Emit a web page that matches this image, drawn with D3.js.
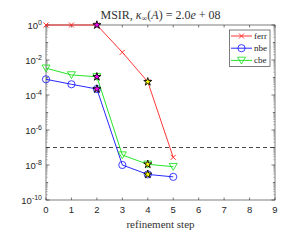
<!DOCTYPE html>
<html><head><meta charset="utf-8">
<script src="https://cdn.jsdelivr.net/npm/d3@7"></script>
<style>body{margin:0;background:#fff}svg{display:block}</style>
</head><body><svg id="c" width="292" height="240"></svg>
<script>
const steps = [0,1,2,3,4,5];
const ferr = [1, 1, 1, 2.75e-2, 5.7e-4, 2.75e-8];
const nbe  = [7.9e-4, 4.1e-4, 2.2e-4, 1.0e-8, 2.9e-9, 2.1e-9];
const cbe  = [3.4e-3, 1.4e-3, 1.1e-3, 3.7e-8, 1.1e-8, 8.0e-9];
const threshold = 1e-7;
const stars = [{step:2, fill:"#ff00ff"}, {step:4, fill:"#ffff00"}];
const xTicks = [0,1,2,3,4,5,6,7,8,9];
const yTickExps = [0,-2,-4,-6,-8,-10];
const seriesNames = ["ferr","nbe","cbe"];

const svg = d3.select("#c");
const L=46, R=275, T=25, B=200;
const x = d3.scaleLinear().domain([0,9]).range([L,R]);
const y = d3.scaleLog().domain([1e-10,1]).range([B,T]);
const axCol = "#262626";

svg.append("rect").attr("x",L).attr("y",T).attr("width",R-L).attr("height",B-T)
  .attr("fill","none").attr("stroke",axCol).attr("stroke-width",0.6);

xTicks.forEach(t=>{
  svg.append("line").attr("x1",x(t)).attr("x2",x(t)).attr("y1",B).attr("y2",B-2.5).attr("stroke",axCol).attr("stroke-width",0.6);
  svg.append("line").attr("x1",x(t)).attr("x2",x(t)).attr("y1",T).attr("y2",T+2.5).attr("stroke",axCol).attr("stroke-width",0.6);
  svg.append("text").attr("x",x(t)).attr("y",B+13).attr("text-anchor","middle")
    .attr("font-family","Liberation Sans, Arial, sans-serif").attr("font-size",9.5).attr("fill",axCol).text(t);
});
for(let e=-10;e<=0;e++){
  const major = yTickExps.includes(e);
  const yy = y(Math.pow(10,e));
  const len = major?3.5:2.2;
  [[L,L+len],[R,R-len]].forEach(([a,b])=>svg.append("line").attr("x1",a).attr("x2",b).attr("y1",yy).attr("y2",yy).attr("stroke",axCol).attr("stroke-width",0.6));
  if(e<0){
    for(let m=2;m<=9;m++){
      const ym = y(m*Math.pow(10,e));
      [[L,L+1.8],[R,R-1.8]].forEach(([a,b])=>svg.append("line").attr("x1",a).attr("x2",b).attr("y1",ym).attr("y2",ym).attr("stroke","#777").attr("stroke-width",0.5));
    }
  }
}
yTickExps.forEach(e=>{
  const t = svg.append("text").attr("x",L-4).attr("y",y(Math.pow(10,e))+3.5).attr("text-anchor","end")
    .attr("font-family","Liberation Sans, Arial, sans-serif").attr("font-size",9.5).attr("fill",axCol);
  t.append("tspan").text("10");
  t.append("tspan").attr("dy",-4).attr("font-size",7).text(e===0?"0":"-"+(-e));
});

svg.append("line").attr("x1",L).attr("x2",R).attr("y1",y(threshold)).attr("y2",y(threshold))
  .attr("stroke","#333").attr("stroke-width",0.9).attr("stroke-dasharray","4,3");

const line = d3.line().x((d,i)=>x(steps[i])).y(d=>y(d));
const colors = {ferr:"#ff2020", nbe:"#1010ff", cbe:"#10e010"};
const data = {ferr, nbe, cbe};

function marker(g, name, cx, cy){
  const c = colors[name];
  if(name==="ferr"){
    g.append("path").attr("d",`M${cx-2.5},${cy-2.5}L${cx+2.5},${cy+2.5}M${cx-2.5},${cy+2.5}L${cx+2.5},${cy-2.5}`).attr("stroke",c).attr("stroke-width",0.9).attr("fill","none");
  } else if(name==="nbe"){
    g.append("circle").attr("cx",cx).attr("cy",cy).attr("r",3.6).attr("stroke",c).attr("stroke-width",0.8).attr("fill","none");
  } else {
    g.append("path").attr("d",`M${cx-4},${cy-3.2}L${cx+4},${cy-3.2}L${cx},${cy+3.6}Z`).attr("stroke",c).attr("stroke-width",0.8).attr("fill","none");
  }
}

seriesNames.forEach(n=>{
  svg.append("path").attr("d",line(data[n])).attr("fill","none").attr("stroke",colors[n]).attr("stroke-width",0.9);
  const g = svg.append("g");
  data[n].forEach((v,i)=>marker(g,n,x(steps[i]),y(v)));
});

const starPath = d3.symbol().type(d3.symbolStar).size(20)();
stars.forEach(s=>{
  seriesNames.forEach(n=>{
    svg.append("path").attr("d",starPath).attr("transform",`translate(${x(s.step)},${y(data[n][s.step])})`)
      .attr("fill",s.fill).attr("stroke","#000").attr("stroke-width",0.9);
  });
});

const lg = svg.append("g");
lg.append("rect").attr("x",229.5).attr("y",30).attr("width",40.5).attr("height",36.5).attr("fill","#fff").attr("stroke",axCol).attr("stroke-width",0.6);
seriesNames.forEach((n,i)=>{
  const ly = 36 + i*12.2;
  lg.append("line").attr("x1",231).attr("x2",252).attr("y1",ly).attr("y2",ly).attr("stroke",colors[n]).attr("stroke-width",0.9);
  marker(lg,n,241.5,ly);
  lg.append("text").attr("x",254).attr("y",ly+3).attr("font-family","Liberation Serif, DejaVu Serif, serif").attr("font-size",9).attr("fill","#222").text(n);
});

const tt = svg.append("text").attr("x",(L+R)/2).attr("y",19).attr("text-anchor","middle")
  .attr("font-family","Liberation Serif, DejaVu Serif, serif").attr("font-size",12).attr("fill","#333");
tt.append("tspan").text("MSIR,  ");
tt.append("tspan").attr("font-style","italic").text("κ");
tt.append("tspan").attr("font-size",8).attr("dy",2).text("∞");
tt.append("tspan").attr("dy",-2).text("(");
tt.append("tspan").attr("font-style","italic").text("A");
tt.append("tspan").text(") = 2.0");
tt.append("tspan").attr("font-style","italic").text("e");
tt.append("tspan").text(" + 08");

svg.append("text").attr("x",(L+R)/2).attr("y",228).attr("text-anchor","middle")
  .attr("font-family","Liberation Serif, DejaVu Serif, serif").attr("font-size",11).attr("fill","#333").text("refinement step");
</script></body></html>
